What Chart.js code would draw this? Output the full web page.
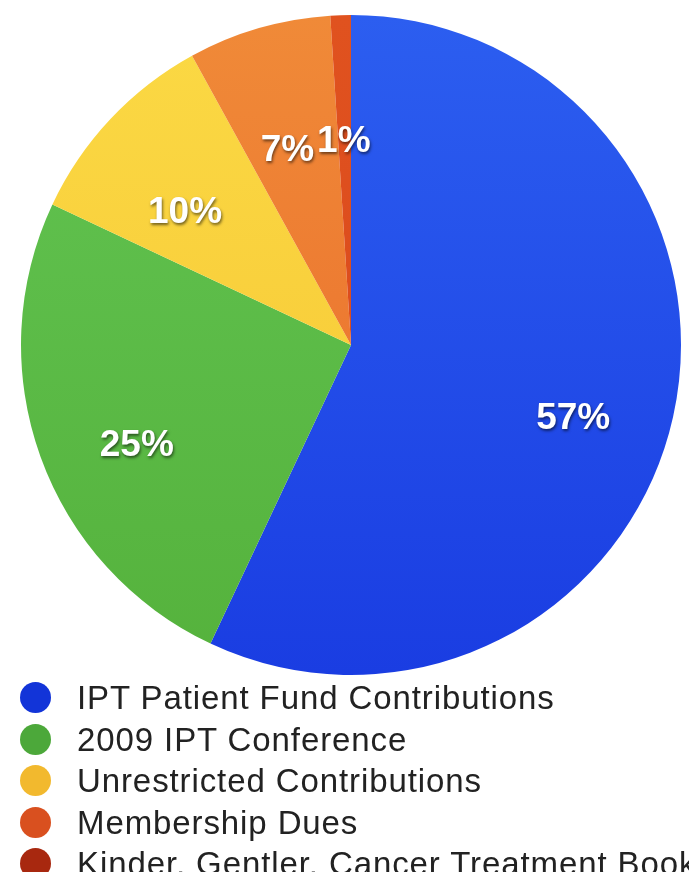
<!DOCTYPE html>
<html lang="en">
<head>
    <meta charset="UTF-8">
    <title>IPT Income Sources</title>
    <script src="https://cdn.jsdelivr.net/npm/chart.js"></script>
    <style>
        body {
            margin: 0;
            background: #fff;
            font-family: "Liberation Sans", Arial, sans-serif;
        }
        .wrap {
            position: relative;
            width: 689px;
            height: 872px;
            overflow: hidden;
        }
        .chart-box {
            position: absolute;
            left: 0;
            top: 0;
            width: 689px;
            height: 680px;
        }
        #legend {
            position: absolute;
            left: 0;
            top: 677px;
            margin: 0;
            padding: 0;
            list-style: none;
        }
        #legend li {
            position: relative;
            height: 41.5px;
            line-height: 41.5px;
            padding-left: 77px;
            font-size: 33px;
            letter-spacing: 0.9px;
            color: #222;
            white-space: nowrap;
        }
        #legend .dot {
            position: absolute;
            left: 20px;
            top: 5px;
            width: 31px;
            height: 31px;
            border-radius: 50%;
        }
    </style>
</head>
<body>

<div class="wrap">
    <div class="chart-box">
        <canvas id="pieChart"></canvas>
    </div>
    <ul id="legend"></ul>
</div>

<script>
// datos del grafico
const categories = [
    'IPT Patient Fund Contributions',
    '2009 IPT Conference',
    'Unrestricted Contributions',
    'Membership Dues',
    'Kinder, Gentler, Cancer Treatment Book'
];
const shares = [57, 25, 10, 7, 1];

// colores: [arriba, abajo] para un degradado suave
const sliceColors = [
    ['#2c5ef0', '#1a3de2'],
    ['#62c452', '#55b23c'],
    ['#fbd944', '#f6c533'],
    ['#f08a38', '#e9692a'],
    ['#e0521f', '#d8461c']
];
const dotColors = ['#1234d8', '#4ca83a', '#f2b92e', '#d9501f', '#a8280f'];

function sliceFill(context) {
    const chart = context.chart;
    const area = chart.chartArea;
    const c = sliceColors[context.dataIndex];
    if (!area) return c[0];
    const g = chart.ctx.createLinearGradient(0, area.top, 0, area.bottom);
    g.addColorStop(0, c[0]);
    g.addColorStop(1, c[1]);
    return g;
}

// etiquetas de porcentaje dentro de cada porcion
const pctLabels = {
    id: 'pctLabels',
    afterDatasetsDraw(chart) {
        const ctx = chart.ctx;
        const meta = chart.getDatasetMeta(0);
        ctx.save();
        ctx.font = 'bold 37px "Liberation Sans", Arial, sans-serif';
        ctx.textAlign = 'center';
        ctx.textBaseline = 'middle';
        ctx.fillStyle = '#fff';
        ctx.shadowColor = 'rgba(0,0,0,0.55)';
        ctx.shadowBlur = 3;
        ctx.shadowOffsetX = 1;
        ctx.shadowOffsetY = 2;
        meta.data.forEach((arc, i) => {
            const p = arc.getProps(['x', 'y', 'startAngle', 'endAngle', 'outerRadius'], true);
            const mid = (p.startAngle + p.endAngle) / 2;
            const r = p.outerRadius * 0.69;
            // el centro del original esta algo mas abajo
            ctx.fillText(shares[i] + '%', p.x + Math.cos(mid) * r, p.y + 24 + Math.sin(mid) * r);
        });
        ctx.restore();
    }
};

const pieChart = new Chart(document.getElementById('pieChart'), {
    type: 'pie',
    data: {
        labels: categories,
        datasets: [{
            data: shares,
            backgroundColor: sliceFill,
            borderWidth: 0,
            hoverOffset: 0
        }]
    },
    options: {
        responsive: true,
        maintainAspectRatio: false,
        animation: false,
        layout: {
            padding: { left: 21, right: 8, top: 15, bottom: 5 }
        },
        plugins: {
            legend: { display: false },
            tooltip: { enabled: false }
        }
    },
    plugins: [pctLabels]
});

// leyenda en html
const legend = document.getElementById('legend');
categories.forEach((name, i) => {
    const li = document.createElement('li');
    li.innerHTML = '<span class="dot" style="background:' + dotColors[i] + '"></span>' + name;
    legend.appendChild(li);
});
</script>
</body>
</html>
